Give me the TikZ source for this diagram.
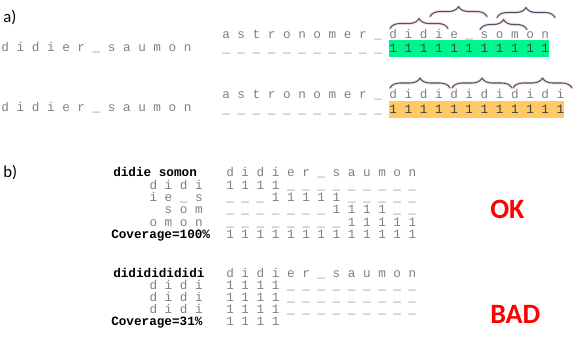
\documentclass[tikz,border=0pt]{standalone}
\usepackage{fontspec}
\usepackage{xcolor}
\usepackage{tikz}
\usetikzlibrary{decorations.pathreplacing}
\newfontfamily\codefont{Liberation Mono}
\newfontfamily\labelfont{Carlito}
\definecolor{txtgray}{HTML}{808080}
\definecolor{hitgray}{HTML}{404040}
\definecolor{hlgreen}{HTML}{00F58F}
\definecolor{hlorange}{HTML}{FFC965}
\definecolor{bracegray}{HTML}{45546A}
\definecolor{braceglow}{HTML}{FBE3E5}
\tikzset{
  mono/.style={font=\codefont\fontsize{9.5}{11}\selectfont, text=txtgray, inner sep=0pt, anchor=base west},
  monob/.style={mono, font=\codefont\bfseries\fontsize{9.5}{11}\selectfont, text=black},
  hl/.style={fill=#1, text=hitgray, text height=9pt, text depth=3.5pt},
  curly/.style={decorate, decoration={brace, amplitude=7.5pt}, draw=bracegray, line width=0.8pt},
  glow/.style={decorate, decoration={brace, amplitude=7.5pt}, draw=braceglow, line width=2.4pt},
  part/.style={font=\labelfont\fontsize{12.5}{14}\selectfont, inner sep=0pt, anchor=base west},
  verdict/.style={font=\labelfont\bfseries\fontsize{21}{24}\selectfont, text=red, inner sep=0pt, anchor=base west},
  every picture/.style={line cap=round, line join=round}
}

\begin{document}
\begin{tikzpicture}[x=0.75pt, y=-0.75pt]
  \useasboundingbox (0,0) rectangle (578,344);

  % a) good candidate
  \node[part] (pa) at (3,22) {a)};
  \node[mono] (srcA) at (1.2,51) {d i d i e r \_ s a u m o n};
  \node[mono] (tgtA) at (222,38) {a s t r o n o m e r \_};
  \node[mono] (candA) at (389.2,38) {d i d i e \_ s o m o n};
  \node[mono] (gapA) at (222,52) {\_ \_ \_ \_ \_ \_ \_ \_ \_ \_ \_};
  \node[mono, hl=hlgreen] (hitA) at (389.2,52) {1 1 1 1 1 1 1 1 1 1 1};

  % a) bad candidate
  \node[mono] (srcB) at (1.2,111) {d i d i e r \_ s a u m o n};
  \node[mono] (tgtB) at (222,98) {a s t r o n o m e r \_};
  \node[mono] (candB) at (389.2,98) {d i d i d i d i d i d i};
  \node[mono] (gapB) at (222,113) {\_ \_ \_ \_ \_ \_ \_ \_ \_ \_ \_};
  \node[mono, hl=hlorange] (hitB) at (389.2,113) {1 1 1 1 1 1 1 1 1 1 1 1};

  % braces over the pieces
  \foreach \xa/\xb/\yb in {390/448/28.5, 430/487/16.5, 480/527/29.5, 497/555/17.5,
                           390/450/88, 452/512/88, 513/572/88} {
    \draw[glow] (\xa,\yb) -- (\xb,\yb);
    \draw[curly] (\xa,\yb) -- (\xb,\yb);
  }

  % b) coverage of the good candidate
  \node[part] (pb) at (3,177) {b)};
  \node[monob] (keyC) at (113,176.5) {didie somon};
  \node[mono] (refC) at (226,176.5) {d i d i e r \_ s a u m o n};
  \node[mono, anchor=base east] (p1C) at (203,189) {d i d i};
  \node[mono] (r1C) at (226,189) {1 1 1 1 \_ \_ \_ \_ \_ \_ \_ \_ \_};
  \node[mono, anchor=base east] (p2C) at (203,201) {i e \_ s};
  \node[mono] (r2C) at (226,201) {\_ \_ \_ 1 1 1 1 1 \_ \_ \_ \_ \_};
  \node[mono, anchor=base east] (p3C) at (203,213.5) {s o m};
  \node[mono] (r3C) at (226,213.5) {\_ \_ \_ \_ \_ \_ \_ 1 1 1 1 \_ \_};
  \node[mono, anchor=base east] (p4C) at (203,226) {o m o n};
  \node[mono] (r4C) at (226,226) {\_ \_ \_ \_ \_ \_ \_ \_ 1 1 1 1 1};
  \node[monob] (covC) at (111,238.5) {Coverage=100\%};
  \node[mono] (sumC) at (226,238.5) {1 1 1 1 1 1 1 1 1 1 1 1 1};
  \node[verdict] (ok) at (490,218) {OK};

  % b) coverage of the bad candidate
  \node[monob] (keyD) at (113,277.5) {didididididi};
  \node[mono] (refD) at (226,277.5) {d i d i e r \_ s a u m o n};
  \node[mono, anchor=base east] (p1D) at (203,289.5) {d i d i};
  \node[mono] (r1D) at (226,289.5) {1 1 1 1 \_ \_ \_ \_ \_ \_ \_ \_ \_};
  \node[mono, anchor=base east] (p2D) at (203,301.5) {d i d i};
  \node[mono] (r2D) at (226,301.5) {1 1 1 1 \_ \_ \_ \_ \_ \_ \_ \_ \_};
  \node[mono, anchor=base east] (p3D) at (203,313.5) {d i d i};
  \node[mono] (r3D) at (226,313.5) {1 1 1 1 \_ \_ \_ \_ \_ \_ \_ \_ \_};
  \node[monob] (covD) at (111,325.5) {Coverage=31\%};
  \node[mono] (sumD) at (226,325.5) {1 1 1 1};
  \node[verdict] (bad) at (490,323) {BAD};
\end{tikzpicture}
\end{document}
